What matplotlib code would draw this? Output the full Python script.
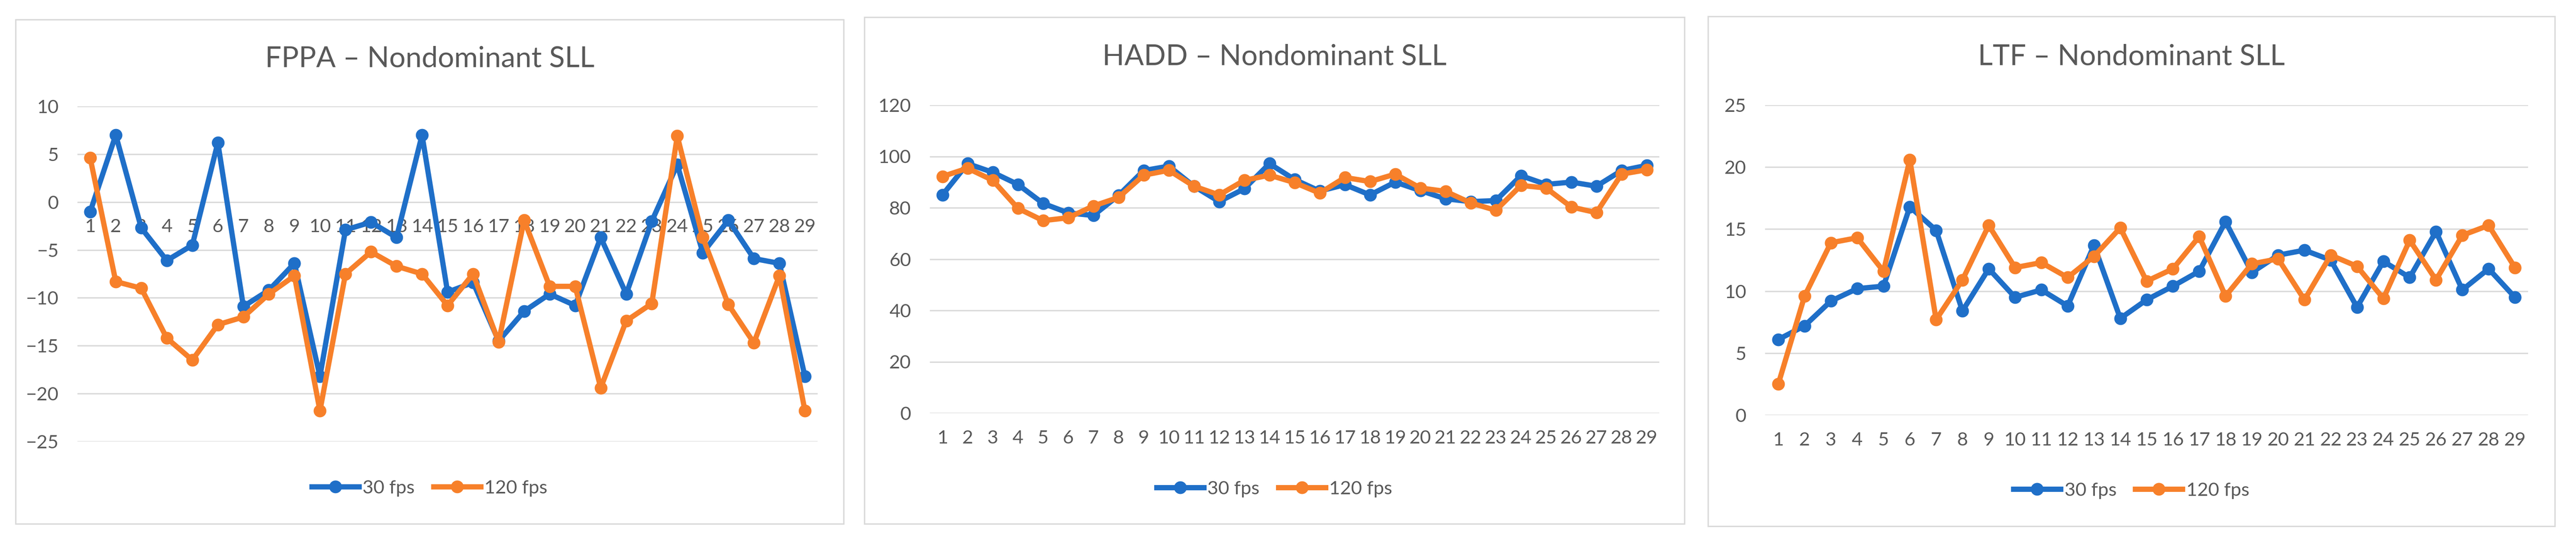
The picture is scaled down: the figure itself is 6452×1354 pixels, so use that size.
import matplotlib.pyplot as plt
from matplotlib.patches import Rectangle

plt.rcParams['font.family'] = ['Lato', 'DejaVu Sans']

trials = list(range(1, 30))

# FPPA
fppa_30 = [-1.0, 7.0, -2.7, -6.1, -4.5, 6.2, -10.9, -9.2, -6.4, -18.2,
           -2.9, -2.1, -3.7, 7.0, -9.4, -8.4, -14.5, -11.4, -9.6, -10.8,
           -3.7, -9.6, -2.0, 3.9, -5.3, -1.9, -5.9, -6.4, -18.2]
fppa_120 = [4.6, -8.3, -9.0, -14.2, -16.5, -12.8, -12.0, -9.6, -7.7, -21.8,
            -7.5, -5.2, -6.7, -7.5, -10.8, -7.5, -14.6, -1.9, -8.8, -8.8,
            -19.4, -12.4, -10.6, 6.9, -3.7, -10.7, -14.7, -7.7, -21.8]

# HADD
hadd_30 = [85.0, 97.2, 93.8, 89.1, 81.7, 78.0, 77.0, 84.8, 94.5, 96.2,
           88.4, 82.4, 87.4, 97.2, 91.0, 86.5, 89.0, 85.0, 90.0, 86.7,
           83.5, 82.4, 82.8, 92.5, 89.1, 90.0, 88.4, 94.5, 96.5]
hadd_120 = [92.2, 95.4, 90.7, 79.8, 75.0, 76.1, 80.7, 84.0, 92.7, 94.6,
            88.4, 85.0, 90.7, 92.7, 89.8, 85.7, 91.8, 90.2, 93.1, 87.7,
            86.4, 81.9, 79.0, 88.7, 87.7, 80.3, 78.1, 93.1, 94.8]

# LTF
ltf_30 = [6.1, 7.2, 9.2, 10.2, 10.4, 16.8, 14.9, 8.4, 11.8, 9.5,
          10.1, 8.8, 13.7, 7.8, 9.3, 10.4, 11.6, 15.6, 11.5, 12.9,
          13.3, 12.5, 8.7, 12.4, 11.1, 14.8, 10.1, 11.8, 9.5]
ltf_120 = [2.5, 9.6, 13.9, 14.3, 11.6, 20.6, 7.7, 10.9, 15.3, 11.9,
           12.3, 11.1, 12.8, 15.1, 10.8, 11.8, 14.4, 9.6, 12.2, 12.6,
           9.3, 12.9, 12.0, 9.4, 14.1, 10.9, 14.5, 15.3, 11.9]

titles = ['FPPA – Nondominant SLL', 'HADD – Nondominant SLL', 'LTF – Nondominant SLL']
series_names = ['30 fps', '120 fps']

W, H = 6452, 1354
blue = '#1F6FC8'
orange = '#F7802A'
grey_txt = '#595959'
grid_c = '#D9D9D9'

fig = plt.figure(figsize=(W / 100, H / 100), dpi=100)

# panel frames (pixels: x0, y0, x1, y1 from top)
frames = [(39, 49, 2113, 1311), (2165, 43, 4219, 1311), (4278, 41, 6399, 1317)]
# plot areas (pixels: left, top, right, bottom)
areas = [(194, 266, 2048, 1105), (2329, 263, 4156, 1034), (4421, 263, 6332, 1039)]
ylims = [(-25, 10), (0, 120), (0, 25)]
ysteps = [5, 20, 5]
title_y = [147, 142, 142]
legend_y = [1222, 1224, 1228]
data = [(fppa_30, fppa_120), (hadd_30, hadd_120), (ltf_30, ltf_120)]

for i in range(3):
    x0, y0, x1, y1 = frames[i]
    fig.patches.append(Rectangle((x0 / W, 1 - y1 / H), (x1 - x0) / W, (y1 - y0) / H,
                                 transform=fig.transFigure, fill=False,
                                 edgecolor=grid_c, linewidth=2.5))
    l, t, r, b = areas[i]
    ax = fig.add_axes([l / W, 1 - b / H, (r - l) / W, (b - t) / H])
    s30, s120 = data[i]
    ax.plot(trials, s30, color=blue, lw=9.5, marker='o', ms=22, label=series_names[0], zorder=3)
    ax.plot(trials, s120, color=orange, lw=9.5, marker='o', ms=22, label=series_names[1], zorder=4)
    lo, hi = ylims[i]
    ax.set_ylim(lo, hi)
    ax.set_xlim(0.5, 29.5)
    ax.set_yticks(range(lo, hi + 1, ysteps[i]))
    ax.set_xticks(trials)
    ax.grid(axis='y', color=grid_c, lw=2.5)
    ax.set_axisbelow(True)
    for sp in ax.spines.values():
        sp.set_visible(False)
    if lo < 0:
        ax.spines['bottom'].set_visible(True)
        ax.spines['bottom'].set_position(('data', 0))
        ax.spines['bottom'].set_color('none')
    ax.tick_params(axis='both', length=0, labelsize=34, labelcolor=grey_txt)
    ax.tick_params(axis='x', pad=30)
    ax.tick_params(axis='y', pad=34)

    fig.text((x0 + x1) / 2 / W, 1 - title_y[i] / H, titles[i], ha='center', va='center',
             fontsize=52, color=grey_txt)
    fig.legend(handles=ax.get_lines(), labels=series_names, loc='center',
               bbox_to_anchor=((x0 + x1) / 2 / W, 1 - legend_y[i] / H), ncol=2,
               frameon=False, fontsize=34, labelcolor=grey_txt, handlelength=2.5,
               handletextpad=0.2, columnspacing=1.0, numpoints=1)

fig.savefig('out.png', dpi=100, facecolor='white')
